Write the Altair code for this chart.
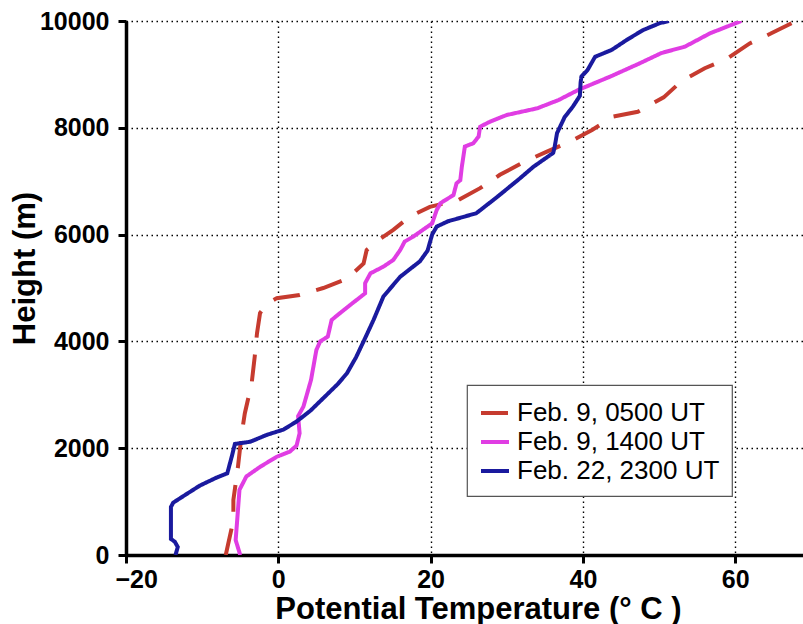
import altair as alt
import pandas as pd

# ---- data ----
SERIES = ["Feb. 9, 0500 UT", "Feb. 9, 1400 UT", "Feb. 22, 2300 UT"]
COLORS = ["#c63b2f", "#e03de3", "#1a1a9e"]
DASHES = [[27, 17], [1, 0], [1, 0]]

X_TICKS = [-20, 0, 20, 40, 60]
Y_TICKS = [0, 2000, 4000, 6000, 8000, 10000]

# Feb. 9, 0500 UT (red dashed)
R_H = [0, 650, 1030, 1650, 2280, 2650, 3215, 3710, 4150, 4530, 4700, 4810, 4870, 5000,
       5170, 5460, 5710, 5870, 6090, 6340, 6520, 6650, 6870, 7120, 7370, 7550, 7740,
       7960, 8210, 8300, 8570, 8880, 9115, 9300, 9580, 9760, 10000]
R_T = [-6.9, -5.9, -5.9, -5.3, -4.8, -4.4, -3.5, -3.1, -2.8, -2.4, -1.5, -0.2, 2.8, 5.9,
       9.0, 11.2, 11.6, 12.9, 15.1, 17.3, 19.9, 23.7, 26.5, 29.1, 32.4, 35.2, 38.3,
       41.2, 44.0, 47.2, 50.6, 53.0, 56.0, 59.0, 61.9, 64.6, 68.0]

# Feb. 9, 1400 UT (magenta)
M_H = [0, 280, 650, 1220, 1470, 1650, 1840, 1935, 2050, 2280, 2600, 2780, 3030, 3280,
       3840, 4000, 4090, 4400, 4530, 4700, 4900, 5090, 5275, 5400, 5525, 5710, 5870,
       5960, 6120, 6210, 6460, 6590, 6740, 6960, 7020, 7270, 7650, 7710, 7835, 8020,
       8115, 8240, 8365, 8520, 8710, 8960, 9210, 9400, 9520, 9770, 10000]
M_T = [-5.0, -5.6, -5.4, -5.1, -4.2, -2.4, -0.2, 1.5, 2.4, 2.8, 2.6, 3.3, 3.8, 4.3,
       5.0, 5.5, 6.5, 7.0, 8.1, 9.6, 11.4, 11.4, 12.1, 13.8, 15.1, 16.0, 16.6,
       17.7, 19.3, 20.2, 20.8, 21.3, 23.0, 23.4, 23.9, 24.1, 24.5, 25.6, 26.3, 26.5,
       27.8, 30.0, 34.0, 36.8, 39.4, 43.6, 47.5, 50.3, 53.4, 56.7, 60.8]

# Feb. 22, 2300 UT (blue)
B_H = [0, 150, 250, 300, 900, 980, 1100, 1300, 1450, 1530, 1850, 2080, 2120, 2250, 2350,
       2500, 2700, 2950, 3200, 3400, 3700, 4000, 4400, 4840, 5210, 5500, 5700, 6000,
       6150, 6250, 6400, 6700, 7050, 7270, 7460, 7530, 7650, 7900, 8200, 8400, 8600,
       8850, 8960, 9080, 9330, 9460, 9650, 9830, 9960, 10000]
B_T = [-13.5, -13.2, -13.6, -14.1, -14.1, -13.8, -12.5, -10.3, -8.1, -6.7, -6.1, -5.7,
       -3.7, -1.5, 0.7, 2.4, 4.2, 6.0, 7.8, 9.0, 10.2, 11.2, 12.5, 13.8, 16.0, 18.6,
       19.6, 20.2, 20.8, 22.3, 26.0, 28.7, 31.7, 33.5, 35.4, 36.1, 36.3, 36.6, 37.6,
       38.7, 39.6, 39.7, 39.8, 40.6, 41.6, 43.8, 45.8, 47.9, 50.1, 51.3]

rows = []
for name, ts, hs in zip(SERIES, [R_T, M_T, B_T], [R_H, M_H, B_H]):
    for i, (t, h) in enumerate(zip(ts, hs)):
        rows.append({"series": name, "T": t, "H": h, "i": i})
df = pd.DataFrame(rows)

FONT = "Liberation Sans"

x_enc = alt.X(
    "T:Q",
    scale=alt.Scale(domain=[-20, 68.9], nice=False, zero=False),
    axis=alt.Axis(values=X_TICKS, title="Potential Temperature (° C )", format="d",
                  titleX=352, titleY=63, titleAlign="center", titleBaseline="alphabetic",
                  titleFontSize=31, labelPadding=4,
                  labelOffset={"condition": {"test": "datum.value < 0", "value": -11},
                               "value": 0}),
)
y_enc = alt.Y(
    "H:Q",
    scale=alt.Scale(domain=[0, 10000], nice=False),
    axis=alt.Axis(values=Y_TICKS, title="Height (m)", format="d",
                  titleX=-101, titleY=247, titleAngle=-90, titleAlign="center",
                  titleBaseline="middle", labelPadding=9),
)
color_enc = alt.Color(
    "series:N",
    scale=alt.Scale(domain=SERIES, range=COLORS),
    legend=alt.Legend(title=None, orient="none", legendX=341, legendY=364),
)
dash_enc = alt.StrokeDash(
    "series:N",
    scale=alt.Scale(domain=SERIES, range=DASHES),
    legend=alt.Legend(title=None, orient="none", legendX=341, legendY=364),
)

layers = []
for s in SERIES:
    layers.append(
        alt.Chart(df)
        .transform_filter(alt.datum.series == s)
        .mark_line(strokeWidth=4, clip=True)
        .encode(x=x_enc, y=y_enc, color=color_enc, strokeDash=dash_enc,
                order=alt.Order("H:Q"))
    )

chart = (
    alt.layer(*layers)
    .properties(
        width=677,
        height=534,
        autosize=alt.AutoSizeParams(type="none"),
        padding={"left": 126, "top": 21, "right": 0, "bottom": 69},
        background="white",
    )
    .configure_view(stroke=None)
    .configure_axis(
        domainColor="black", domainWidth=3.5,
        tickColor="black", tickWidth=3, tickSize=8,
        labelFont=FONT, labelFontSize=25, labelFontWeight="bold", labelColor="black",
        titleFont=FONT, titleFontSize=31, titleFontWeight="bold", titleColor="black",
        grid=True, gridColor="black", gridDash=[1.5, 3.5], gridWidth=1.4, gridOpacity=1,
    )
    .configure_legend(
        padding=12, strokeColor="#555555", fillColor="white", strokeWidth=1.2,
        symbolType="stroke", symbolSize=784, symbolStrokeWidth=4,
        labelFont=FONT, labelFontSize=26, labelColor="black", labelOffset=6,
        rowPadding=-2, labelLimit=400,
    )
)

chart.save("out.html", embed_options={"renderer": "svg", "actions": False})
